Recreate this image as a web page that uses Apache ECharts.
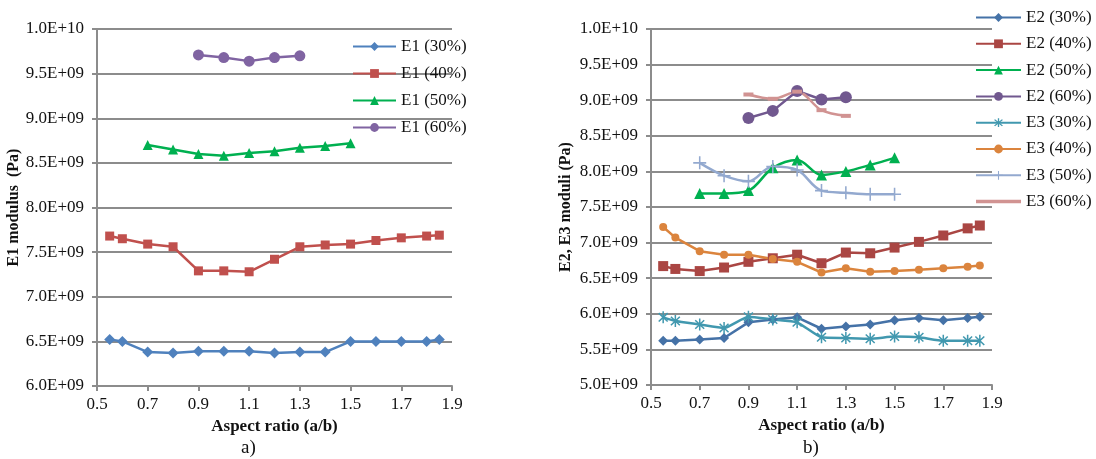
<!DOCTYPE html>
<html>
<head>
<meta charset="utf-8">
<script src="https://cdn.jsdelivr.net/npm/echarts@6/dist/echarts.min.js"></script>
<style>
html,body{margin:0;padding:0;background:#fff;}
#chart{width:1096px;height:459px;}
</style>
</head>
<body>
<div id="chart"></div>
<script>
// ---- Data (moduli in units of 1E+09 Pa) ----
const xFull = [0.55, 0.6, 0.7, 0.8, 0.9, 1.0, 1.1, 1.2, 1.3, 1.4, 1.5, 1.6, 1.7, 1.8, 1.85];
const xMid  = [0.7, 0.8, 0.9, 1.0, 1.1, 1.2, 1.3, 1.4, 1.5];
const xTop  = [0.9, 1.0, 1.1, 1.2, 1.3];

// Chart a)
const E1_30 = [6.52, 6.50, 6.38, 6.37, 6.39, 6.39, 6.39, 6.37, 6.38, 6.38, 6.50, 6.50, 6.50, 6.50, 6.52];
const E1_40 = [7.68, 7.65, 7.59, 7.56, 7.29, 7.29, 7.28, 7.42, 7.56, 7.58, 7.59, 7.63, 7.66, 7.68, 7.69];
const E1_50 = [8.70, 8.65, 8.60, 8.58, 8.61, 8.63, 8.67, 8.69, 8.72];
const E1_60 = [9.71, 9.68, 9.64, 9.68, 9.70];

// Chart b)
const E2_30 = [5.62, 5.62, 5.64, 5.66, 5.88, 5.92, 5.95, 5.79, 5.82, 5.85, 5.91, 5.94, 5.91, 5.94, 5.96];
const E2_40 = [6.67, 6.63, 6.60, 6.65, 6.73, 6.78, 6.83, 6.71, 6.86, 6.85, 6.93, 7.01, 7.10, 7.20, 7.24];
const E2_50 = [7.69, 7.69, 7.73, 8.05, 8.16, 7.95, 8.00, 8.09, 8.19];
const E2_60 = [8.75, 8.85, 9.13, 9.01, 9.04];
const E3_30 = [5.95, 5.90, 5.85, 5.80, 5.96, 5.92, 5.88, 5.67, 5.66, 5.65, 5.68, 5.67, 5.62, 5.62, 5.62];
const E3_40 = [7.22, 7.07, 6.88, 6.83, 6.83, 6.77, 6.73, 6.58, 6.64, 6.59, 6.60, 6.62, 6.64, 6.66, 6.68];
const E3_50 = [8.12, 7.94, 7.86, 8.07, 8.02, 7.73, 7.70, 7.68, 7.68];
const E3_60 = [9.08, 9.02, 9.12, 8.86, 8.78];

const yTicksMin = 5.0, yTicksMax = 10.0;
const xTickLabels = ['0.5', '0.7', '0.9', '1.1', '1.3', '1.5', '1.7', '1.9'];

const FONT = 'Liberation Serif';
const TXT = '#111';
const GRIDC = '#8c8c8c';

function zip(xs, ys) { return xs.map((x, i) => [x, ys[i]]); }
function sci(v) {
  const val = v * 1e9;
  const e = Math.floor(Math.log10(val) + 1e-9);
  const m = val / Math.pow(10, e);
  return m.toFixed(1) + 'E+' + String(e).padStart(2, '0');
}

const ASTER = 'path://M-1.2,-10 L1.2,-10 L1.2,10 L-1.2,10 Z ' +
  'M6.22,7.92 L-7.92,-6.22 L-6.22,-7.92 L7.92,6.22 Z ' +
  'M7.92,-6.22 L-6.22,7.92 L-7.92,6.22 L6.22,-7.92 Z';
const PLUS = 'path://M-1.2,-10 L1.2,-10 L1.2,10 L-1.2,10 Z M-10,-1.2 L10,-1.2 L10,1.2 L-10,1.2 Z';
const BAR = 'path://M0,0 L45,0 L45,3.5 L0,3.5 Z';

function xAxisDef(gi) {
  return {
    gridIndex: gi, type: 'value', min: 0.5, max: 1.9, interval: 0.2,
    name: 'Aspect ratio (a/b)', nameLocation: 'middle', nameGap: 27,
    nameTextStyle: { fontFamily: FONT, fontSize: 17, fontWeight: 'bold', color: TXT },
    axisLine: { lineStyle: { color: GRIDC, width: 2 } },
    axisTick: { show: true, length: 5, lineStyle: { color: GRIDC, width: 2 } },
    axisLabel: { fontFamily: FONT, fontSize: 17, color: TXT, margin: 10,
      formatter: v => xTickLabels[Math.round((v - 0.5) / 0.2)] },
    splitLine: { show: false }
  };
}
function yAxisDef(gi, min, name, gap) {
  return {
    gridIndex: gi, type: 'value', min: min, max: yTicksMax, interval: 0.5,
    name: name, nameLocation: 'middle', nameGap: gap,
    nameTextStyle: { fontFamily: FONT, fontSize: 16, fontWeight: 'bold', color: TXT },
    axisLine: { show: true, lineStyle: { color: GRIDC, width: 2 } },
    axisTick: { show: true, length: 5, lineStyle: { color: GRIDC, width: 2 } },
    axisLabel: { fontFamily: FONT, fontSize: 17, color: TXT, margin: 13, formatter: sci },
    splitLine: { show: true, lineStyle: { color: GRIDC, width: 2 } }
  };
}
function ser(name, gi, xs, ys, color, symbol, size, smooth) {
  return {
    name: name, type: 'line', xAxisIndex: gi, yAxisIndex: gi,
    data: zip(xs, ys), smooth: smooth || false,
    symbol: symbol, symbolSize: size, showAllSymbol: true,
    lineStyle: { color: color, width: 2.5 },
    itemStyle: { color: color },
    emphasis: { disabled: true }, animation: false
  };
}

const C = {
  blue: '#4f81bd', red: '#c0504d', green: '#00b050', purple: '#8064a2',
  blue2: '#4572a7', red2: '#aa4643', purple2: '#71588f', teal: '#4198af',
  orange: '#db843d', lblue: '#93a9cf', pink: '#d19392'
};

const legendText = { fontFamily: FONT, fontSize: 17, color: TXT, lineHeight: 14 };

const option = {
  backgroundColor: '#fff',
  animation: false,
  grid: [
    { left: 97, right: 644, top: 29, bottom: 73 },
    { left: 651, right: 104, top: 29, bottom: 74 }
  ],
  xAxis: [xAxisDef(0), xAxisDef(1)],
  yAxis: [
    yAxisDef(0, 6.0, 'E1 modulus  (Pa)', 69),
    yAxisDef(1, yTicksMin, 'E2, E3 moduli (Pa)', 77)
  ],
  legend: [
    { data: ['E1 (30%)', 'E1 (40%)', 'E1 (50%)', 'E1 (60%)'], orient: 'vertical',
      left: 352, top: 38, itemWidth: 43, itemHeight: 11, itemGap: 10,
      textStyle: legendText, padding: 0 },
    { data: ['E2 (30%)', 'E2 (40%)', 'E2 (50%)', 'E2 (60%)', 'E3 (30%)', 'E3 (40%)', 'E3 (50%)',
             { name: 'E3 (60%)', icon: BAR }],
      orient: 'vertical', left: 975, top: 9, itemWidth: 45, itemHeight: 11, itemGap: 9.3,
      textStyle: legendText, padding: 0 }
  ],
  graphic: [
    { type: 'text', left: 241, top: 439, style: { text: 'a)', fontFamily: FONT, fontSize: 19, fill: TXT } },
    { type: 'text', left: 803, top: 439, style: { text: 'b)', fontFamily: FONT, fontSize: 19, fill: TXT } }
  ],
  series: [
    ser('E1 (30%)', 0, xFull, E1_30, C.blue, 'diamond', 11),
    ser('E1 (40%)', 0, xFull, E1_40, C.red, 'rect', 9),
    ser('E1 (50%)', 0, xMid, E1_50, C.green, 'triangle', 10),
    ser('E1 (60%)', 0, xTop, E1_60, C.purple, 'circle', 11),
    ser('E2 (30%)', 1, xFull, E2_30, C.blue2, 'diamond', 10),
    ser('E2 (40%)', 1, xFull, E2_40, C.red2, 'rect', 10),
    ser('E2 (50%)', 1, xMid, E2_50, C.green, 'triangle', 11, 0.35),
    ser('E2 (60%)', 1, xTop, E2_60, C.purple2, 'circle', 12),
    ser('E3 (30%)', 1, xFull, E3_30, C.teal, ASTER, [10, 12], 0.15),
    ser('E3 (40%)', 1, xFull, E3_40, C.orange, 'circle', 8),
    ser('E3 (50%)', 1, xMid, E3_50, C.lblue, PLUS, 13, 0.35),
    ser('E3 (60%)', 1, xTop, E3_60, C.pink, 'rect', [10, 4], 0.35)
  ]
};

const chart = echarts.init(document.getElementById('chart'), null, { renderer: 'canvas' });
chart.setOption(option);
</script>
</body>
</html>
